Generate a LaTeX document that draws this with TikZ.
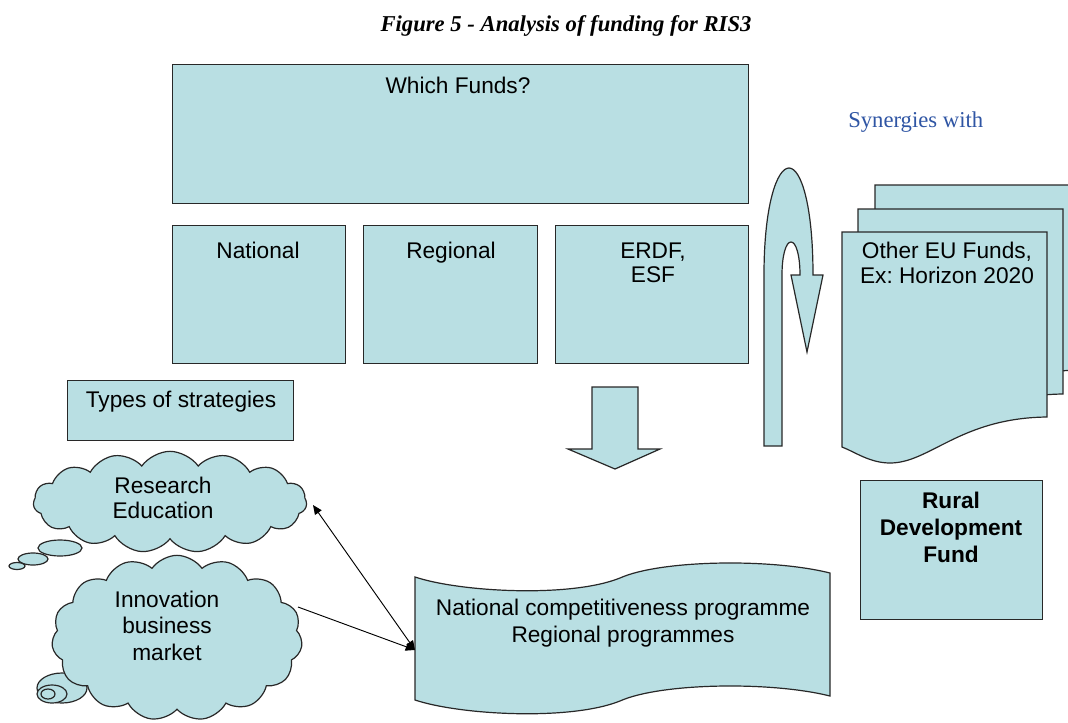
\documentclass[tikz,border=0pt]{standalone}
\usepackage{fontspec}
\setmainfont{Liberation Serif}
\newfontfamily\arialf{Liberation Sans}
\usetikzlibrary{shapes.symbols,arrows.meta}
\frenchspacing
\definecolor{boxfill}{RGB}{185,223,227}
\definecolor{edge}{RGB}{40,40,40}
\definecolor{synblue}{RGB}{47,85,164}
\tikzset{
  box/.style={draw=edge, fill=boxfill, line width=1pt, inner sep=0pt, anchor=north west},
  shapefill/.style={draw=edge, fill=boxfill, line width=0.9pt},
  lbl/.style={anchor=base, inner sep=0pt, font=\arialf\fontsize{17}{20}\selectfont},
  blbl/.style={lbl, font=\arialf\bfseries\fontsize{17}{20}\selectfont},
  cloudy/.style={cloud, cloud puffs=15, cloud puff arc=110, cloud ignores aspect, draw=edge, fill=boxfill, line width=0.9pt, inner sep=0pt},
  conn/.style={draw=black, line width=0.7pt, -{Triangle[length=7pt,width=6pt]}},
  conn2/.style={draw=black, line width=0.7pt, {Triangle[length=7pt,width=6pt]}-{Triangle[length=7pt,width=6pt]}}
}
\newcommand{\docpath}{(842,232) -- (1047,232) -- (1047,417) .. controls (960,418) and (930,463) .. (890,463) .. controls (870,463) and (855,452) .. (842,447) -- cycle}
\begin{document}
\begin{tikzpicture}[x=0.75pt,y=-0.75pt]
\useasboundingbox[fill=white] (0,0) rectangle (1068,722);

% title
\node[anchor=base, inner sep=0pt, font=\bfseries\itshape\fontsize{17}{20}\selectfont] (title) at (566,31) {Figure 5 - Analysis of funding for RIS3};

% top boxes
\node[box, minimum width=432pt, minimum height=104.25pt] (which) at (172,64) {};
\node[lbl] (whicht) at (458,93) {Which Funds?};
\node[box, minimum width=129.75pt, minimum height=103.5pt] (nat) at (172,225) {};
\node[lbl] (natt) at (258,258) {National};
\node[box, minimum width=130.5pt, minimum height=103.5pt] (reg) at (363,225) {};
\node[lbl] (regt) at (451,258) {Regional};
\node[box, minimum width=144.75pt, minimum height=103.5pt] (erdf) at (555,225) {};
\node[lbl] (erdft1) at (653,258) {ERDF,};
\node[lbl] (erdft2) at (653,282) {ESF};

% synergies
\node[anchor=base west, inner sep=0pt, text=synblue, font=\fontsize{17}{20}\selectfont] (syn) at (848,127) {Synergies with};

% U-turn arrow
\path[shapefill] (764,446) -- (764,275) .. controls (764,205) and (777,168) .. (789,168) .. controls (801,168) and (813,205) .. (813,275)
  -- (823,275) -- (807,352) -- (791,275) -- (800,275)
  .. controls (800,255) and (796,242) .. (791,242) .. controls (786,242) and (782,255) .. (782,275) -- (782,446) -- cycle;

% document stack
\begin{scope}
\clip (0,0) rectangle (1068,722);
\path[shapefill, shift={(33,-47)}] \docpath;
\path[shapefill, shift={(16,-23)}] \docpath;
\path[shapefill] \docpath;
\end{scope}
\node[lbl] (eu1) at (947,258) {Other EU Funds,};
\node[lbl] (eu2) at (947,283) {Ex: Horizon 2020};

% rural
\node[box, minimum width=136.5pt, minimum height=104.25pt] (rural) at (860,480) {};
\node[blbl] (rur1) at (951,508) {Rural};
\node[blbl] (rur2) at (951,535) {Development};
\node[blbl] (rur3) at (951,562) {Fund};

% types of strategies
\node[box, minimum width=169.5pt, minimum height=45pt] (types) at (67,380) {};
\node[lbl] (typest) at (181,407) {Types of strategies};

% big down arrow
\path[shapefill] (592,387) -- (638,387) -- (638,449) -- (660,449) -- (615,469) -- (568,449) -- (592,449) -- cycle;

% clouds
\node[cloudy, minimum width=205pt, minimum height=76pt] (res) at (170,502) {};
\path[shapefill] (60,548) ellipse [x radius=22, y radius=8];
\path[shapefill] (33,559) ellipse [x radius=15, y radius=6];
\path[shapefill] (17,566) ellipse [x radius=8, y radius=3.5];
\node[lbl] (rest1) at (163,493) {Research};
\node[lbl] (rest2) at (163,518) {Education};

\path[shapefill] (62,688) ellipse [x radius=25, y radius=15];
\node[cloudy, minimum width=188pt, minimum height=124pt] (inov) at (177,638) {};
\path[shapefill] (52,694) ellipse [x radius=15, y radius=9];
\path[shapefill] (48,694) ellipse [x radius=7, y radius=5];
\node[lbl] (inovt1) at (167,607) {Innovation};
\node[lbl] (inovt2) at (167,633) {business};
\node[lbl] (inovt3) at (167,660) {market};

% banner
\path[shapefill] (415,577) .. controls (460,592) and (570,598) .. (620,578) .. controls (660,560) and (770,558) .. (830,573)
  -- (830,696) .. controls (770,681) and (660,683) .. (620,701) .. controls (570,721) and (460,715) .. (415,700) -- cycle;
\node[lbl] (ban1) at (623,615) {National competitiveness programme};
\node[lbl] (ban2) at (623,642) {Regional programmes};

% connectors
\coordinate (banin) at (415,650);
\coordinate (inovout) at (298,607);
\coordinate (resout) at (313,505);
\draw[conn] (inovout) -- (banin);
\draw[conn2] (resout) -- (banin);
\end{tikzpicture}
\end{document}
